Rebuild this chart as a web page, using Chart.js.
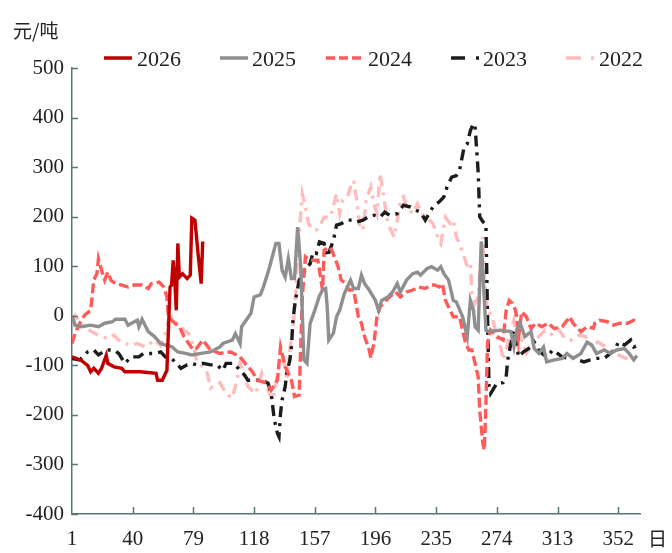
<!DOCTYPE html>
<html>
<head>
<meta charset="utf-8">
<script src="https://cdn.jsdelivr.net/npm/chart.js@4.4.1/dist/chart.umd.min.js"></script>
<style>
  html, body { margin: 0; padding: 0; background: #fff; }
  #wrap { width: 672px; height: 553px; }
</style>
</head>
<body>
<div id="wrap"><canvas id="spreadChart" width="672" height="553"></canvas></div>
<script>
// day-of-year / spread values (元/吨)
const seriesNames = ['2026', '2025', '2024', '2023', '2022'];
const xTicks = [1, 40, 79, 118, 157, 196, 235, 274, 313, 352];
const yTicks = [-400, -300, -200, -100, 0, 100, 200, 300, 400, 500];

const d2026 = [1, 7, 11, 13, 15, 18, 20, 23, 24, 28, 33, 35, 41, 45, 55, 56, 59, 62, 64, 65, 66, 67, 68, 69, 70, 72, 75, 77, 78, 80, 82, 84, 85];
const v2026 = [-83, -90, -100, -113, -106, -116, -106, -80, -96, -103, -106, -113, -113, -113, -116, -130, -130, -110, 58, 62, 112, 75, 11, 146, 78, 85, 75, 82, 197, 193, 126, 65, 150];

const d2025 = [1, 3, 7, 13, 18, 22, 27, 29, 35, 37, 41, 43, 44, 46, 50, 54, 58, 61, 65, 69, 74, 78, 84, 90, 96, 98, 104, 106, 109, 110, 116, 118, 122, 124, 126, 128, 132, 134, 136, 138, 140, 142, 144, 146, 148, 150, 152, 154, 157, 160, 162, 164, 165, 166, 169, 171, 173, 176, 180, 182, 185, 187, 189, 192, 196, 198, 200, 204, 207, 210, 212, 216, 220, 223, 225, 229, 232, 236, 238, 240, 243, 246, 248, 252, 255, 257, 259, 260, 262, 264, 265, 267, 269, 276, 283, 285, 287, 289, 292, 296, 298, 301, 304, 306, 311, 316, 319, 323, 328, 332, 335, 338, 343, 347, 351, 356, 359, 362, 364];
const v2025 = [0, -19, -22, -19, -22, -15, -12, -7, -7, -19, -12, -9, -22, -7, -32, -42, -56, -59, -62, -73, -76, -79, -76, -73, -63, -56, -49, -36, -56, -22, 5, 38, 42, 58, 78, 99, 146, 146, 92, 78, 115, 75, 75, 179, 99, -89, -96, -16, 11, 40, 52, 55, 18, -49, -35, -2, 11, 45, 72, 55, 55, 82, 65, 52, 31, 11, 31, 38, 48, 65, 48, 72, 85, 88, 82, 95, 99, 92, 99, 85, 72, 31, 28, -2, -42, 31, 11, -22, -29, 150, 90, -29, -32, -29, -32, -63, -26, -15, -42, -32, -66, -76, -63, -93, -89, -86, -76, -86, -76, -53, -59, -76, -69, -76, -69, -66, -76, -89, -80];

const d2024 = [1, 3, 6, 9, 13, 15, 17, 18, 20, 22, 24, 26, 29, 33, 37, 41, 46, 50, 52, 57, 60, 62, 63, 67, 70, 73, 76, 79, 81, 85, 90, 96, 103, 109, 113, 117, 120, 123, 126, 129, 133, 135, 138, 140, 142, 144, 147, 149, 151, 154, 159, 162, 163, 166, 168, 172, 174, 177, 179, 182, 185, 187, 189, 192, 193, 195, 197, 199, 201, 205, 209, 212, 216, 220, 224, 228, 232, 234, 237, 239, 241, 244, 246, 250, 252, 254, 256, 258, 260, 262, 263, 265, 266, 267, 268, 270, 274, 278, 280, 282, 284, 286, 287, 288, 290, 293, 296, 299, 303, 307, 311, 316, 321, 323, 328, 332, 336, 337, 340, 345, 349, 353, 358, 362, 364];
const v2024 = [-56, -36, -15, 1, 11, 72, 85, 115, 92, 72, 88, 72, 65, 62, 58, 62, 62, 55, 65, 68, 58, 38, -2, -15, -22, -42, -56, -69, -66, -49, -69, -76, -73, -83, -99, -113, -130, -133, -136, -150, -130, -63, -103, -116, -130, -163, -160, 38, 119, 112, 112, 52, 132, 139, 132, 99, 72, 65, 52, 52, -2, -15, -42, -69, -85, -56, -2, 18, 25, 38, 48, 38, 48, 52, 58, 55, 62, 62, 58, 65, 31, 11, -2, -2, -29, -56, -69, -69, -96, -123, -190, -258, -271, -177, -56, -29, -42, -49, 11, 31, 25, 11, -6, -42, 8, -2, -26, -15, -22, -15, -26, -22, -2, -15, -32, -22, -25, -15, -9, -12, -19, -15, -15, -9, -10];

const d2023 = [1, 6, 11, 15, 18, 23, 28, 31, 35, 39, 44, 47, 54, 58, 61, 65, 68, 71, 75, 78, 81, 85, 90, 94, 98, 100, 105, 109, 112, 114, 119, 123, 127, 129, 131, 133, 134, 135, 136, 138, 139, 141, 142, 143, 144, 145, 147, 149, 152, 154, 156, 158, 160, 163, 165, 169, 171, 174, 178, 181, 184, 188, 191, 195, 199, 202, 205, 210, 214, 218, 222, 225, 228, 231, 233, 237, 240, 242, 245, 248, 250, 253, 255, 257, 259, 260, 262, 263, 265, 267, 268, 269, 270, 274, 278, 280, 281, 283, 285, 288, 291, 296, 298, 301, 303, 306, 310, 313, 316, 320, 322, 326, 330, 334, 338, 343, 347, 350, 352, 356, 360, 362, 364];
const v2023 = [-86, -89, -73, -69, -79, -69, -69, -76, -96, -83, -83, -76, -76, -73, -83, -86, -96, -106, -99, -96, -99, -96, -99, -99, -110, -96, -96, -110, -120, -130, -130, -130, -136, -157, -210, -237, -244, -197, -170, -143, -116, -89, -63, -9, 18, 38, 72, 82, 99, 105, 129, 126, 149, 146, 119, 152, 183, 186, 193, 193, 189, 193, 199, 203, 199, 209, 203, 206, 223, 220, 213, 209, 193, 209, 220, 230, 240, 260, 280, 283, 293, 341, 347, 374, 388, 384, 290, 200, 190, 185, 0, -143, -157, -136, -135, -123, -89, -56, -29, -83, -73, -63, -53, -69, -76, -83, -69, -76, -83, -86, -83, -89, -93, -89, -86, -86, -76, -69, -53, -59, -49, -63, -60];

const d2022 = [1, 3, 5, 7, 12, 16, 20, 24, 28, 31, 35, 39, 43, 48, 51, 54, 58, 61, 63, 65, 68, 71, 73, 76, 79, 81, 84, 88, 90, 96, 100, 104, 107, 109, 114, 119, 123, 128, 130, 134, 137, 139, 141, 143, 145, 146, 149, 151, 153, 156, 158, 160, 163, 167, 171, 173, 175, 178, 180, 182, 184, 186, 188, 190, 193, 195, 197, 199, 202, 204, 208, 210, 212, 214, 216, 220, 223, 226, 229, 233, 236, 238, 241, 244, 246, 248, 250, 253, 255, 257, 258, 260, 262, 264, 265, 266, 268, 271, 274, 277, 278, 280, 283, 285, 288, 290, 293, 297, 301, 305, 310, 314, 318, 322, 327, 331, 335, 339, 344, 348, 352, 357, 359];
const v2022 = [-9, 1, -9, -19, -29, -36, -42, -46, -39, -49, -56, -59, -56, -63, -56, -49, -60, -36, -9, -2, -15, -22, -29, -36, -60, -90, -100, -116, -146, -135, -157, -166, -130, -96, -143, -157, -116, -157, -170, -103, -89, -130, -69, -22, 52, 126, 246, 220, 186, 173, 173, 179, 199, 199, 246, 206, 233, 240, 260, 273, 233, 179, 173, 233, 260, 226, 206, 287, 226, 186, 159, 193, 233, 240, 220, 206, 226, 205, 199, 186, 159, 146, 199, 186, 193, 159, 146, 119, 99, 105, 45, 25, 38, 132, 159, 78, 11, -2, -42, -69, -89, -69, -30, -9, -69, -49, -76, -56, -42, -29, -39, -29, -46, -49, -39, -42, -63, -53, -63, -73, -79, -86, -76];

const AXIS_COLOR = '#587676';
const SERIF = '"Liberation Serif", "DejaVu Serif", serif';

function toPoints(days, vals) {
    return days.map((d, i) => ({ x: d, y: vals[i] }));
}

const styles = [
    { color: '#c00000', dash: [], legendDash: [] },
    { color: '#8f8f8f', dash: [], legendDash: [] },
    { color: '#ff5b5b', dash: [10, 4], legendDash: [9, 4] },
    { color: '#1c1c1c', dash: [11, 6, 3, 6], legendDash: [14, 11, 3, 40] },
    { color: '#ffbcbc', dash: [11, 6, 3, 6], legendDash: [15, 10, 3, 40] }
];
const seriesData = [[d2026, v2026], [d2025, v2025], [d2024, v2024], [d2023, v2023], [d2022, v2022]];

const datasets = seriesNames.map((name, i) => ({
    label: name,
    data: toPoints(seriesData[i][0], seriesData[i][1]),
    borderColor: styles[i].color,
    backgroundColor: styles[i].color,
    borderDash: styles[i].dash,
    borderWidth: 3.4,
    pointRadius: 0,
    tension: 0,
    fill: false,
    legendDash: styles[i].legendDash
}));

// legend line starts and text starts (px)
const legendLine = [104, 220, 326, 451, 566];
const legendLen = [28, 28, 35, 28, 28];
const legendText = [137, 252, 368, 483, 599];

const decorPlugin = {
    id: 'decor',
    afterDraw(chart) {
        const { ctx, chartArea, scales } = chart;
        ctx.save();
        // inward tick marks
        ctx.strokeStyle = AXIS_COLOR;
        ctx.lineWidth = 1.5;
        ctx.beginPath();
        scales.y.ticks.forEach(t => {
            const y = Math.round(scales.y.getPixelForValue(t.value)) + 0.5;
            ctx.moveTo(chartArea.left, y);
            ctx.lineTo(chartArea.left + 6, y);
        });
        scales.x.ticks.forEach(t => {
            if (t.value === 1) return;
            const x = Math.round(scales.x.getPixelForValue(t.value)) + 0.5;
            ctx.moveTo(x, chartArea.bottom);
            ctx.lineTo(x, chartArea.bottom - 7);
        });
        ctx.stroke();

        // legend
        ctx.font = '22px ' + SERIF;
        ctx.textBaseline = 'middle';
        ctx.textAlign = 'left';
        chart.data.datasets.forEach((ds, i) => {
            ctx.strokeStyle = ds.borderColor;
            ctx.lineWidth = 3.5;
            ctx.setLineDash(ds.legendDash);
            ctx.beginPath();
            ctx.moveTo(legendLine[i], 58);
            ctx.lineTo(legendLine[i] + legendLen[i], 58);
            ctx.stroke();
            ctx.setLineDash([]);
            ctx.fillStyle = '#222';
            ctx.fillText(ds.label, legendText[i], 60);
        });

        // unit labels
        ctx.fillStyle = '#222';
        ctx.font = '19px "Noto Sans CJK SC", sans-serif';
        ctx.fillText('元/吨', 13, 31);
        ctx.fillText('日', 648, 539);
        ctx.restore();
    }
};

new Chart(document.getElementById('spreadChart'), {
    type: 'line',
    data: { datasets: datasets },
    options: {
        responsive: false,
        animation: false,
        devicePixelRatio: 1,
        layout: { padding: { top: 68, right: 32, bottom: 0, left: 0 } },
        plugins: {
            legend: { display: false },
            tooltip: { enabled: false }
        },
        scales: {
            x: {
                type: 'linear',
                min: 1,
                max: 366,
                afterBuildTicks: scale => { scale.ticks = xTicks.map(v => ({ value: v })); },
                afterFit: scale => { scale.height = 39; },
                grid: { display: false, drawTicks: false },
                border: { display: true, color: AXIS_COLOR, width: 1.5 },
                ticks: {
                    autoSkip: false,
                    maxRotation: 0,
                    padding: 13,
                    color: '#222',
                    font: { family: SERIF, size: 21 }
                }
            },
            y: {
                min: -400,
                max: 500,
                afterBuildTicks: scale => { scale.ticks = yTicks.map(v => ({ value: v })); },
                afterFit: scale => { scale.width = 72; },
                grid: { display: false, drawTicks: false },
                border: { display: true, color: AXIS_COLOR, width: 1.5 },
                ticks: {
                    padding: 8,
                    color: '#222',
                    font: { family: SERIF, size: 21 }
                }
            }
        }
    },
    plugins: [decorPlugin]
});
</script>
</body>
</html>
